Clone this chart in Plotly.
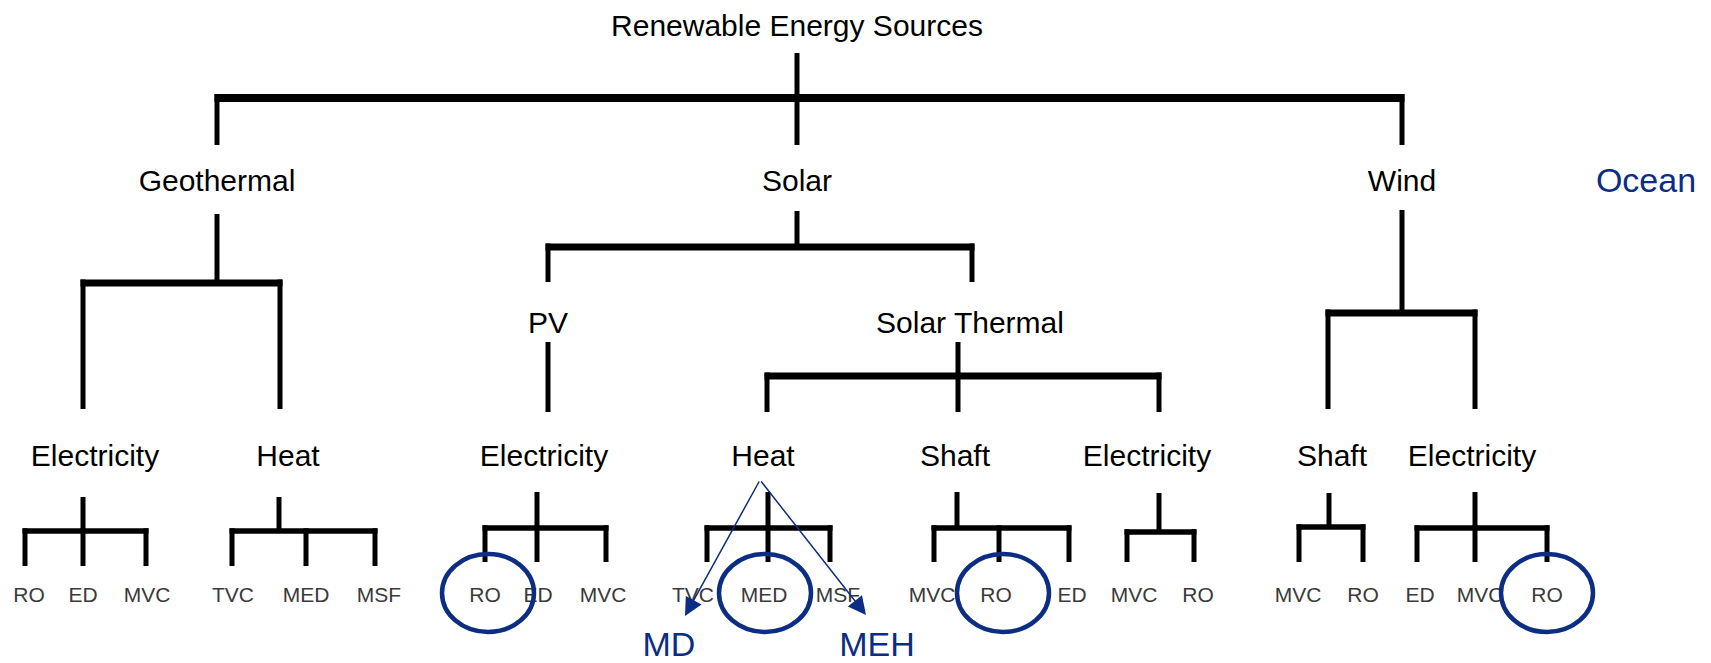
import plotly.graph_objects as go

# ---------------- data ----------------
root = "Renewable Energy Sources"
sources = ["Geothermal", "Solar", "Wind"]
other_source = "Ocean"
solar_branches = ["PV", "Solar Thermal"]
energy_forms = ["Electricity", "Heat", "Electricity", "Heat", "Shaft", "Electricity", "Shaft", "Electricity"]
energy_parents = ["Geothermal", "Geothermal", "PV", "Solar Thermal", "Solar Thermal", "Solar Thermal", "Wind", "Wind"]
technologies = [["RO", "ED", "MVC"], ["TVC", "MED", "MSF"], ["RO", "ED", "MVC"], ["TVC", "MED", "MSF"],
                ["MVC", "RO", "ED"], ["MVC", "RO"], ["MVC", "RO"], ["ED", "MVC", "RO"]]
highlighted = [(2, 0), (3, 1), (4, 1), (7, 2)]
heat_alternatives = ["MD", "MEH"]

# ---------------- layout (pixel coordinates of the window) ----------------
W, H = 1711, 663
PAGE_MARGIN = 8  # default body margin of the html page
Y_ROOT, Y_L1, Y_L2, Y_L3, Y_LEAF, Y_ALT = 28, 183, 325, 458, 597, 647
root_x = 797
source_x = [217, 797, 1402]
ocean_x = 1646
solar_x = [548, 972]
solar_label_x = [548, 970]
form_drop_x = [83, 280, 548, 767, 958, 1159, 1328, 1475]
form_label_x = [95, 288, 544, 763, 955, 1147, 1332, 1472]
form_stem_x = [83, 279, 537, 768, 957, 1159, 1329, 1475]
leaf_bar_y = [531, 531, 528, 528, 528, 532, 527, 528]
leaf_stem_top = [497, 497, 492, 492, 492, 493, 493, 492]
leaf_drop_bottom = [566, 566, 562, 562, 562, 562, 562, 562]
leaf_drop_x = [[25, 83, 146], [232, 306, 375], [485, 537, 606], [707, 768, 830],
               [934, 999, 1069], [1127, 1194], [1299, 1363], [1417, 1475, 1547]]
leaf_label_x = [[29, 83, 147], [233, 306, 379], [485, 538, 603], [693, 764, 838],
                [932, 996, 1072], [1134, 1198], [1298, 1363], [1420, 1480, 1547]]
circle_x = [488, 765, 1003, 1547]
circle_y = 593
circle_rx, circle_ry = 46, 39
alt_apex = (760, 480)
alt_tip = [(685, 616), (866, 615)]
alt_label_x = [669, 877]

# bracket geometry for upper levels: stem top, bar y, drop bottom
upper = {
    "root": dict(x=root_x, top=53, bar=98, bottom=145, kids=source_x, bw=8),
    "Geothermal": dict(x=source_x[0], top=214, bar=283, bottom=409, bw=7),
    "Solar": dict(x=source_x[1], top=211, bar=247, bottom=282, kids=solar_x, bw=7),
    "PV": dict(x=solar_x[0], top=342, bar=376, bottom=412, bw=7),
    "Solar Thermal": dict(x=958, top=342, bar=376, bottom=412, bw=7),
    "Wind": dict(x=source_x[2], top=210, bar=313, bottom=409, bw=7),
}
for name in ["Geothermal", "PV", "Solar Thermal", "Wind"]:
    upper[name]["kids"] = [form_drop_x[i] for i, p in enumerate(energy_parents) if p == name]

BLACK = "#000000"
BLUE = "#0b2d83"
LEAF_GREY = "#3a3a3a"
FONT = "Liberation Sans, Arial, sans-serif"
VW = 5  # vertical line width

shapes = []


def seg(x0, y0, x1, y1, w, color=BLACK):
    shapes.append(dict(type="line", xref="x", yref="y", x0=x0, y0=y0, x1=x1, y1=y1,
                       line=dict(color=color, width=w)))


def bracket(sx, top, bar, kids, bottom, bw, vw=VW):
    seg(sx, top, sx, bar, vw)
    if len(kids) > 1:
        seg(min(kids) - vw / 2, bar, max(kids) + vw / 2, bar, bw)
    for k in kids:
        seg(k, bar - (bw / 2 if len(kids) > 1 else 0), k, bottom, vw)


for b in upper.values():
    bracket(b["x"], b["top"], b["bar"], b["kids"], b["bottom"], b["bw"])

for i in range(len(energy_forms)):
    bracket(form_stem_x[i], leaf_stem_top[i], leaf_bar_y[i], leaf_drop_x[i], leaf_drop_bottom[i], 5.5)

for (gi, li), cx in zip(highlighted, circle_x):
    shapes.append(dict(type="circle", xref="x", yref="y",
                       x0=cx - circle_rx, x1=cx + circle_rx,
                       y0=circle_y - circle_ry, y1=circle_y + circle_ry,
                       line=dict(color=BLUE, width=4.5)))

fig = go.Figure()


def text_trace(xs, ys, labels, size, color, family=FONT):
    fig.add_trace(go.Scatter(x=xs, y=ys, text=labels, mode="text", textposition="middle center",
                             textfont=dict(size=size, color=color, family=family),
                             hoverinfo="skip", showlegend=False, cliponaxis=False))


text_trace([root_x], [Y_ROOT], [root], 30, BLACK)
text_trace(source_x, [Y_L1] * 3, sources, 30, BLACK)
text_trace(solar_label_x, [Y_L2] * 2, solar_branches, 30, BLACK)
text_trace(form_label_x, [Y_L3] * len(energy_forms), energy_forms, 30, BLACK)
leaf_x, leaf_t = [], []
for xs, ts in zip(leaf_label_x, technologies):
    leaf_x += xs
    leaf_t += ts
text_trace(leaf_x, [Y_LEAF] * len(leaf_x), leaf_t, 21, LEAF_GREY)
text_trace([ocean_x], [Y_L1], [other_source], 34, BLUE)
text_trace(alt_label_x, [Y_ALT] * 2, heat_alternatives, 34, BLUE)

annotations = []
for tx, ty in alt_tip:
    annotations.append(dict(x=tx, y=ty, ax=alt_apex[0], ay=alt_apex[1], xref="x", yref="y",
                            axref="x", ayref="y", text="", showarrow=True, arrowhead=2,
                            arrowsize=2.4, arrowwidth=1.5, arrowcolor=BLUE, standoff=0))

fig.update_layout(
    width=W, height=H, margin=dict(l=0, r=0, t=0, b=0),
    paper_bgcolor="white", plot_bgcolor="white",
    xaxis=dict(range=[PAGE_MARGIN, W + PAGE_MARGIN], visible=False, fixedrange=True),
    yaxis=dict(range=[H + PAGE_MARGIN, PAGE_MARGIN], visible=False, fixedrange=True),
    shapes=shapes, annotations=annotations,
)
fig.write_html("out.html")
